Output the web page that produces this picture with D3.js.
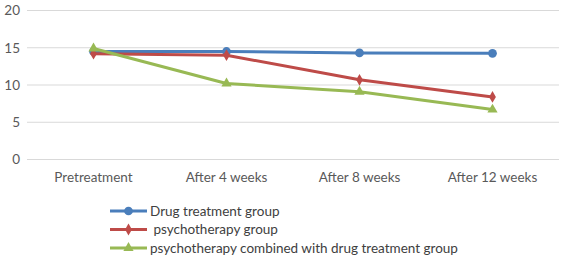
<!DOCTYPE html>
<html>
<head>
<meta charset="utf-8">
<script src="https://cdn.jsdelivr.net/npm/d3@7"></script>
<style>
  body { margin: 0; background: #fff; }
  text { font-family: Lato, "Open Sans", sans-serif; }
</style>
</head>
<body>
<div id="chart"></div>
<script>
// -------- Data --------
const categories = ['Pretreatment', 'After 4 weeks', 'After 8 weeks', 'After 12 weeks'];
const drugGroup = [14.5, 14.5, 14.3, 14.25];
const psychoGroup = [14.2, 14.0, 10.7, 8.4];
const combinedGroup = [14.9, 10.2, 9.1, 6.7];
const seriesNames = ['Drug treatment group', ' psychotherapy group', 'psychotherapy combined with drug treatment group'];
const yTicks = [0, 5, 10, 15, 20];

const series = [
  { name: seriesNames[0], values: drugGroup, color: '#4a7ebb', marker: 'circle' },
  { name: seriesNames[1], values: psychoGroup, color: '#be4b48', marker: 'diamond' },
  { name: seriesNames[2], values: combinedGroup, color: '#98b954', marker: 'triangle' }
];

// -------- Dimensions --------
const svgWidth = 561, svgHeight = 270;
const plot = { left: 27, right: 559, top: 10.5, bottom: 159.5 };

const svg = d3.select('#chart').append('svg')
  .attr('width', svgWidth)
  .attr('height', svgHeight);

// -------- Scales --------
const x = d3.scaleBand().domain(categories).range([plot.left, plot.right]);
const y = d3.scaleLinear().domain([0, 20]).range([plot.bottom, plot.top]);

// -------- Grid --------
svg.append('g')
  .selectAll('line')
  .data(yTicks)
  .join('line')
    .attr('x1', plot.left)
    .attr('x2', plot.right)
    .attr('y1', d => y(d))
    .attr('y2', d => y(d))
    .attr('stroke', '#d9d9d9')
    .attr('stroke-width', 1);

// -------- Axes --------
const yAxis = svg.append('g')
  .attr('transform', `translate(${plot.left},0)`)
  .call(d3.axisLeft(y).tickValues(yTicks).tickSize(0).tickPadding(7));
yAxis.select('.domain').remove();
yAxis.selectAll('text')
  .attr('fill', '#595959')
  .style('font-size', '13.5px')
  .style('font-family', 'Lato, sans-serif');

const xAxis = svg.append('g')
  .attr('transform', `translate(0,${plot.bottom})`)
  .call(d3.axisBottom(x).tickSize(0).tickPadding(13));
xAxis.select('.domain').remove();
xAxis.selectAll('text')
  .attr('fill', '#595959')
  .style('font-size', '13.5px')
  .style('font-family', 'Lato, sans-serif');

// -------- Lines --------
const cx = c => x(c) + x.bandwidth() / 2;
const line = d3.line()
  .x((d, i) => cx(categories[i]))
  .y(d => y(d));

const symbolFor = {
  circle: d3.symbol().type(d3.symbolCircle).size(60),
  diamond: d3.symbol().type(d3.symbolDiamond).size(40),
  triangle: d3.symbol().type(d3.symbolTriangle).size(45)
};

const groups = svg.append('g')
  .selectAll('g.series')
  .data(series)
  .join('g')
    .attr('class', 'series');

groups.append('path')
  .attr('d', d => line(d.values))
  .attr('fill', 'none')
  .attr('stroke', d => d.color)
  .attr('stroke-width', 3)
  .attr('stroke-linejoin', 'round');

groups.each(function(s) {
  d3.select(this).selectAll('path.marker')
    .data(s.values)
    .join('path')
      .attr('class', 'marker')
      .attr('d', symbolFor[s.marker])
      .attr('transform', (d, i) => `translate(${cx(categories[i])},${y(d)})`)
      .attr('fill', s.color);
});

// -------- Legend --------
const legend = svg.append('g')
  .attr('transform', 'translate(110,211)');

legend.selectAll('g.legend-item')
  .data(series)
  .join('g')
    .attr('class', 'legend-item')
    .attr('transform', (d, i) => `translate(0,${i * 18.5})`)
  .call(g => {
    g.append('line')
      .attr('x1', 0).attr('x2', 37)
      .attr('stroke', d => d.color)
      .attr('stroke-width', 3);
    g.append('path')
      .attr('d', d => symbolFor[d.marker]())
      .attr('transform', 'translate(18.5,0)')
      .attr('fill', d => d.color);
    g.append('text')
      .attr('x', 40)
      .attr('y', 4.5)
      .attr('xml:space', 'preserve')
      .attr('fill', '#404040')
      .style('font-size', '13.5px')
      .text(d => d.name);
  });
</script>
</body>
</html>
